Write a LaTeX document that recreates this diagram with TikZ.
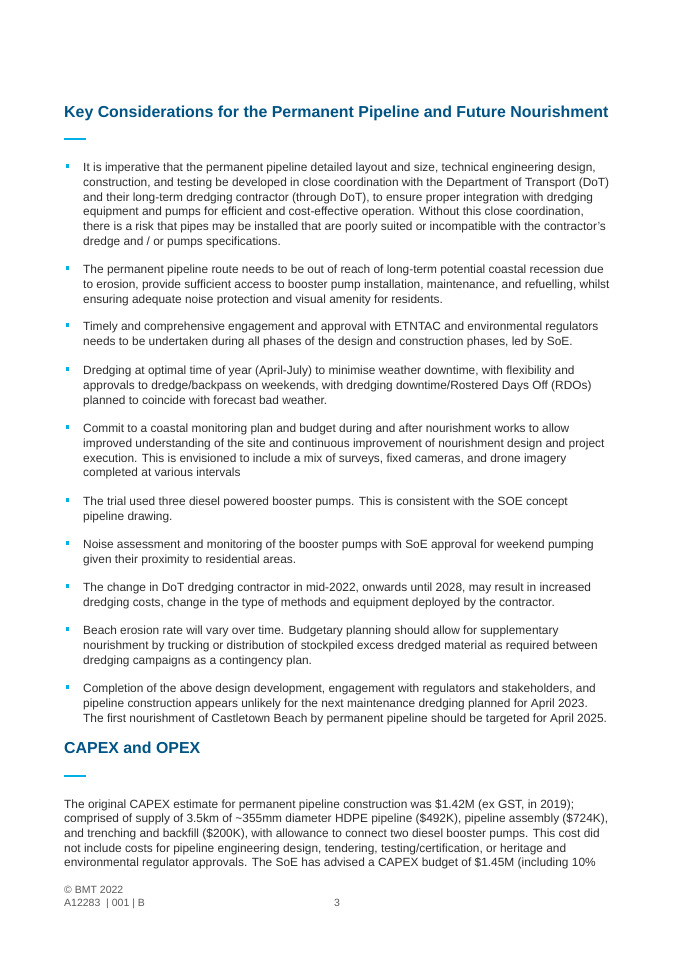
\documentclass[tikz,border=0pt]{standalone}
\usepackage{fontspec}
\setmainfont{Liberation Sans}
\usepackage{xcolor}
\definecolor{headBlue}{RGB}{0,84,132}
\definecolor{barCyan}{RGB}{0,176,230}
\definecolor{bodyGrey}{RGB}{45,45,45}
\definecolor{footGrey}{RGB}{90,90,90}
\tikzset{
  heading/.style={anchor=base west,inner sep=0pt,text=headBlue,font=\fontsize{15.9}{18}\selectfont\bfseries},
  headbar/.style={barCyan,line width=2.6pt},
  bulletsq/.style={fill=barCyan,draw=none,minimum size=3.2pt,inner sep=0pt},
  bodytext/.style={anchor=north west,inner sep=0pt,text=bodyGrey,align=left,font=\fontsize{11.9}{14.7}\selectfont},
  foottext/.style={anchor=north west,inner sep=0pt,text=footGrey,align=left,font=\fontsize{10.5}{12.5}\selectfont}
}
\begin{document}
\begin{tikzpicture}[x=1pt,y=-1pt]
\useasboundingbox[fill=white] (0,0) rectangle (675,954);
% first heading
\node[heading] (head1) at (64,117) {Key Considerations for the Permanent Pipeline and Future Nourishment};
\draw[headbar] (64,139) -- (86,139);
% bullets
\foreach \y in {170,272,329,373,431,504,547,590,633,691}
  \node[bulletsq] at (67.5,\y-4) {};
\node[bodytext] (b1) at (83,163) {It is imperative that the permanent pipeline detailed layout and size, technical engineering design,\\
construction, and testing be developed in close coordination with the Department of Transport (DoT)\\
and their long-term dredging contractor (through DoT), to ensure proper integration with dredging\\
equipment and pumps for efficient and cost-effective operation. Without this close coordination,\\
there is a risk that pipes may be installed that are poorly suited or incompatible with the contractor's\\
dredge and / or pumps specifications.};
\node[bodytext] (b2) at (83,265) {The permanent pipeline route needs to be out of reach of long-term potential coastal recession due\\
to erosion, provide sufficient access to booster pump installation, maintenance, and refuelling, whilst\\
ensuring adequate noise protection and visual amenity for residents.};
\node[bodytext] (b3) at (83,322) {Timely and comprehensive engagement and approval with ETNTAC and environmental regulators\\
needs to be undertaken during all phases of the design and construction phases, led by SoE.};
\node[bodytext] (b4) at (83,366) {Dredging at optimal time of year (April-July) to minimise weather downtime, with flexibility and\\
approvals to dredge/backpass on weekends, with dredging downtime/Rostered Days Off (RDOs)\\
planned to coincide with forecast bad weather.};
\node[bodytext] (b5) at (83,424) {Commit to a coastal monitoring plan and budget during and after nourishment works to allow\\
improved understanding of the site and continuous improvement of nourishment design and project\\
execution. This is envisioned to include a mix of surveys, fixed cameras, and drone imagery\\
completed at various intervals};
\node[bodytext] (b6) at (83,497) {The trial used three diesel powered booster pumps. This is consistent with the SOE concept\\
pipeline drawing.};
\node[bodytext] (b7) at (83,540) {Noise assessment and monitoring of the booster pumps with SoE approval for weekend pumping\\
given their proximity to residential areas.};
\node[bodytext] (b8) at (83,583) {The change in DoT dredging contractor in mid-2022, onwards until 2028, may result in increased\\
dredging costs, change in the type of methods and equipment deployed by the contractor.};
\node[bodytext] (b9) at (83,626) {Beach erosion rate will vary over time. Budgetary planning should allow for supplementary\\
nourishment by trucking or distribution of stockpiled excess dredged material as required between\\
dredging campaigns as a contingency plan.};
\node[bodytext] (b10) at (83,684) {Completion of the above design development, engagement with regulators and stakeholders, and\\
pipeline construction appears unlikely for the next maintenance dredging planned for April 2023.\\
The first nourishment of Castletown Beach by permanent pipeline should be targeted for April 2025.};
% second heading
\node[heading] (head2) at (64,753) {CAPEX and OPEX};
\draw[headbar] (64,776) -- (86,776);
\node[bodytext] (capex) at (64,799) {The original CAPEX estimate for permanent pipeline construction was \$1.42M (ex GST, in 2019);\\
comprised of supply of 3.5km of \textasciitilde 355mm diameter HDPE pipeline (\$492K), pipeline assembly (\$724K),\\
and trenching and backfill (\$200K), with allowance to connect two diesel booster pumps. This cost did\\
not include costs for pipeline engineering design, tendering, testing/certification, or heritage and\\
environmental regulator approvals. The SoE has advised a CAPEX budget of \$1.45M (including 10\%};
% footer
\node[foottext] (foot) at (64,886) {© BMT 2022\\A12283 \ | 001 | B};
\node[foottext] (page) at (334,898.5) {3};
\end{tikzpicture}
\end{document}
